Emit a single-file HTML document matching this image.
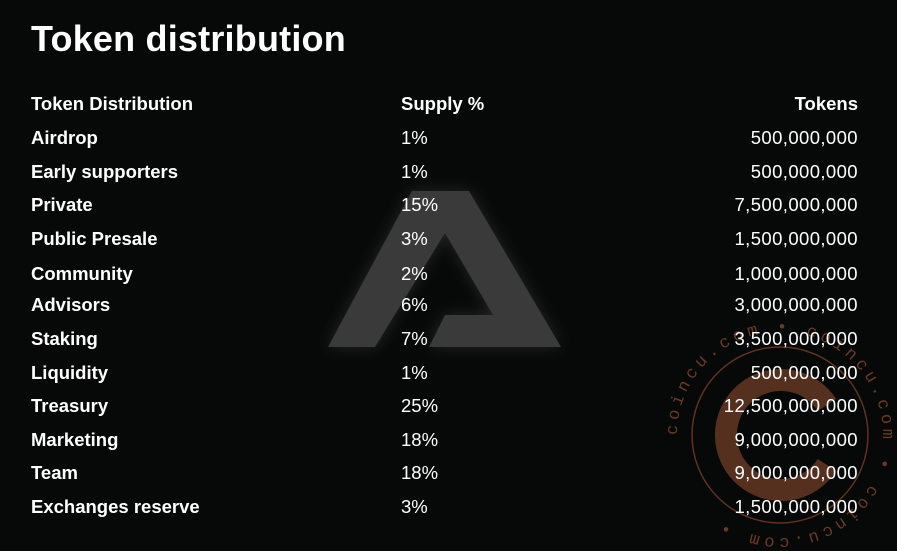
<!DOCTYPE html>
<html><head><meta charset="utf-8"><style>
html,body{margin:0;padding:0;background:#070808;}
body{width:897px;height:551px;position:relative;overflow:hidden;font-family:"Liberation Sans",sans-serif;color:#fff;}
.t{position:absolute;left:31px;top:17px;font-size:36px;font-weight:bold;letter-spacing:0.2px;line-height:44px;}
.r{position:absolute;left:0;width:897px;height:22px;line-height:22px;font-size:18.5px;}
.r span{position:absolute;top:0;}
.a{left:31px;font-weight:bold;}
.b{left:401px;}
.c{right:39px;letter-spacing:0.4px;}
.h .b,.h .c{font-weight:bold;letter-spacing:0;}
svg{position:absolute;left:0;top:0;}
</style></head><body>
<svg width="897" height="551">
<defs><filter id="g" x="-20%" y="-20%" width="140%" height="140%"><feGaussianBlur stdDeviation="8"/></filter></defs>
<polygon points="328,347 412,191 469,191 561,347 429,347 445,315 493,315 445,233 375,347" fill="#ffffff" filter="url(#g)" opacity="0.12"/>
<polygon points="328,347 412,191 469,191 561,347 429,347 445,315 493,315 445,233 375,347" fill="#3a3a3a"/>
<circle cx="780" cy="435" r="88" fill="none" stroke="#5e3322" stroke-width="1.5"/>
<path d="M 827 405 A 55 55 0 1 0 827 465" fill="none" stroke="#55301f" stroke-width="22"/>
<path id="ring" d="M 780 435 m -103 0 a 103 103 0 1 1 206 0 a 103 103 0 1 1 -206 0" fill="none"/>
<text font-family="Liberation Mono,monospace" font-size="17" fill="#6b3a26" letter-spacing="4.2"><textPath href="#ring">coincu.com • coincu.com • coincu.com •</textPath></text>
</svg>
<div class="t">Token distribution</div>
<div class="r h" style="top:93px"><span class="a">Token Distribution</span><span class="b">Supply %</span><span class="c">Tokens</span></div>
<div class="r" style="top:127px"><span class="a">Airdrop</span><span class="b">1%</span><span class="c">500,000,000</span></div>
<div class="r" style="top:161px"><span class="a">Early supporters</span><span class="b">1%</span><span class="c">500,000,000</span></div>
<div class="r" style="top:194px"><span class="a">Private</span><span class="b">15%</span><span class="c">7,500,000,000</span></div>
<div class="r" style="top:228px"><span class="a">Public Presale</span><span class="b">3%</span><span class="c">1,500,000,000</span></div>
<div class="r" style="top:263px"><span class="a">Community</span><span class="b">2%</span><span class="c">1,000,000,000</span></div>
<div class="r" style="top:294px"><span class="a">Advisors</span><span class="b">6%</span><span class="c">3,000,000,000</span></div>
<div class="r" style="top:328px"><span class="a">Staking</span><span class="b">7%</span><span class="c">3,500,000,000</span></div>
<div class="r" style="top:362px"><span class="a">Liquidity</span><span class="b">1%</span><span class="c">500,000,000</span></div>
<div class="r" style="top:395px"><span class="a">Treasury</span><span class="b">25%</span><span class="c">12,500,000,000</span></div>
<div class="r" style="top:429px"><span class="a">Marketing</span><span class="b">18%</span><span class="c">9,000,000,000</span></div>
<div class="r" style="top:462px"><span class="a">Team</span><span class="b">18%</span><span class="c">9,000,000,000</span></div>
<div class="r" style="top:496px"><span class="a">Exchanges reserve</span><span class="b">3%</span><span class="c">1,500,000,000</span></div>
</body></html>
